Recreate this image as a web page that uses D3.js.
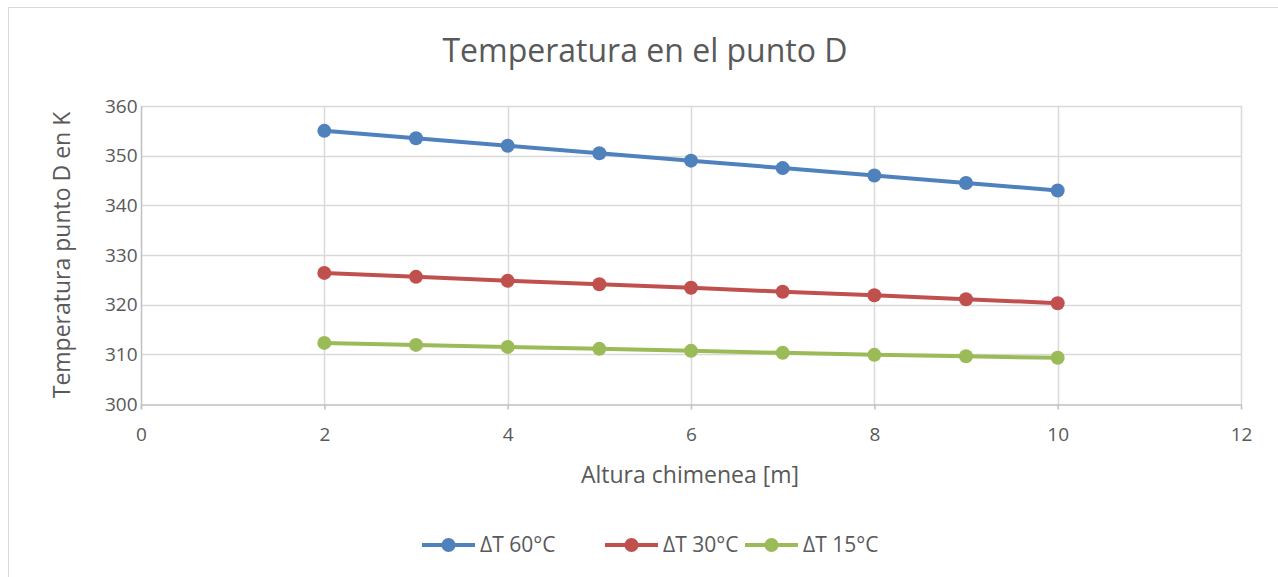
<!DOCTYPE html>
<html>
<head>
<meta charset="utf-8">
<script src="https://cdn.jsdelivr.net/npm/d3@7"></script>
<style>
  body { margin: 0; background: #fff; }
  svg { display: block; font-family: "Open Sans", sans-serif; }
  .tick text { fill: #595959; font-size: 19px; font-family: "Open Sans", sans-serif; }
</style>
</head>
<body>
<div id="chart"></div>
<script>
// data
const alturas = [2, 3, 4, 5, 6, 7, 8, 9, 10];
const serie60 = [355, 353.5, 352, 350.5, 349, 347.5, 346, 344.5, 343];
const serie30 = [326.4, 325.6, 324.8, 324.1, 323.4, 322.6, 321.9, 321.1, 320.3];
const serie15 = [312.3, 311.9, 311.5, 311.1, 310.7, 310.3, 309.9, 309.6, 309.3];
const xTicks = [0, 2, 4, 6, 8, 10, 12];
const yTicks = [300, 310, 320, 330, 340, 350, 360];

const series = [
    { name: "ΔT 60°C", values: serie60, color: "#4f81bd" },
    { name: "ΔT 30°C", values: serie30, color: "#c0504d" },
    { name: "ΔT 15°C", values: serie15, color: "#9bbb59" }
];

const width = 1278,
    height = 577,
    margin = ({ top: 106, right: 37, bottom: 173, left: 141 });

const svg = d3.select("#chart")
    .append("svg")
    .attr("width", width)
    .attr("height", height);

// chart frame (cut off on right and bottom in the original)
svg.append("rect")
    .attr("x", 8.5).attr("y", 7.5)
    .attr("width", width + 10).attr("height", height + 10)
    .attr("fill", "#fff")
    .attr("stroke", "#d9d9d9");

let x = d3.scaleLinear()
    .domain([0, 12])
    .range([margin.left, width - margin.right]);

let y = d3.scaleLinear()
    .domain([300, 360])
    .range([height - margin.bottom, margin.top]);

// gridlines
svg.append("g")
    .selectAll("line.h")
    .data(yTicks.slice(1))
    .join("line")
    .attr("x1", x(0)).attr("x2", x(12))
    .attr("y1", d => Math.round(y(d)) + 0.5).attr("y2", d => Math.round(y(d)) + 0.5)
    .attr("stroke", "#d9d9d9").attr("stroke-width", 1.5);

svg.append("g")
    .selectAll("line.v")
    .data(xTicks.slice(1))
    .join("line")
    .attr("x1", d => Math.round(x(d)) + 0.5).attr("x2", d => Math.round(x(d)) + 0.5)
    .attr("y1", y(300)).attr("y2", y(360))
    .attr("stroke", "#d9d9d9").attr("stroke-width", 1.5);

// axes
const xAxis = svg.append("g")
    .attr("transform", `translate(0,${Math.round(y(300)) + 0.5})`)
    .call(d3.axisBottom(x).tickValues(xTicks).tickSize(5).tickPadding(18).tickSizeOuter(0));
xAxis.select(".domain").attr("stroke", "#bfbfbf").attr("stroke-width", 1.5);
xAxis.selectAll(".tick line").attr("stroke", "#bfbfbf").attr("stroke-width", 1.5);

const yAxis = svg.append("g")
    .attr("transform", `translate(${Math.round(x(0)) + 0.5},0)`)
    .call(d3.axisLeft(y).tickValues(yTicks).tickSize(0).tickPadding(4).tickSizeOuter(0));
yAxis.select(".domain").attr("stroke", "#bfbfbf").attr("stroke-width", 1.5)
    .attr("d", `M0,${y(360)}V${y(300) + 5}`);

// title & labels
svg.append("text")
    .attr("x", 645).attr("y", 62)
    .attr("text-anchor", "middle")
    .attr("fill", "#595959")
    .style("font-size", "32px")
    .text("Temperatura en el punto D");

svg.append("text")
    .attr("x", 690).attr("y", 483)
    .attr("text-anchor", "middle")
    .attr("fill", "#595959")
    .style("font-size", "23px")
    .text("Altura chimenea [m]");

svg.append("text")
    .attr("transform", `translate(70,${(y(300) + y(360)) / 2}) rotate(-90)`)
    .attr("text-anchor", "middle")
    .attr("fill", "#595959")
    .style("font-size", "23px")
    .text("Temperatura punto D en K");

// lines
let line = d3.line()
    .x((d, i) => x(alturas[i]))
    .y(d => y(d));

for (let s of series) {
    let g = svg.append("g");
    g.append("path")
        .datum(s.values)
        .attr("fill", "none")
        .attr("stroke", s.color)
        .attr("stroke-width", 4)
        .attr("d", line);
    g.selectAll("circle")
        .data(s.values)
        .join("circle")
        .attr("cx", (d, i) => x(alturas[i]))
        .attr("cy", d => y(d))
        .attr("r", 7)
        .attr("fill", s.color);
}

// legend
const legendX = [422, 605, 745];
const legend = svg.append("g");
series.forEach((s, i) => {
    let g = legend.append("g").attr("transform", `translate(${legendX[i]},545)`);
    g.append("line")
        .attr("x1", 0).attr("x2", 53)
        .attr("stroke", s.color).attr("stroke-width", 4);
    g.append("circle")
        .attr("cx", 26.5).attr("r", 7).attr("fill", s.color);
    g.append("text")
        .attr("x", 58).attr("y", 0)
        .attr("dy", "0.35em")
        .attr("fill", "#595959")
        .style("font-size", "21px")
        .text(s.name);
});
</script>
</body>
</html>
